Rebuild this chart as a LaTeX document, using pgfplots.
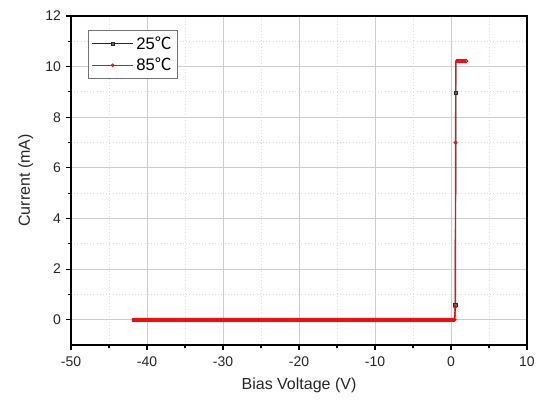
\documentclass[border=0pt]{standalone}
\usepackage{pgfplots}
\pgfplotsset{compat=1.18}
\usepackage{fontspec}
\setmainfont{Liberation Sans}
\newfontfamily\cjk{Noto Sans CJK SC}
\newcommand{\degC}{{\cjk ℃}}
\definecolor{gridmaj}{RGB}{205,205,205}
\definecolor{gridmin}{RGB}{220,220,220}
\definecolor{ser85}{RGB}{250,10,10}
\definecolor{ser25}{RGB}{40,40,40}
\begin{document}
\begin{tikzpicture}
\path[use as bounding box] (-53.25pt,-41.25pt) rectangle (351.75pt,258.75pt);
\begin{axis}[
  at={(0pt,0pt)}, anchor=south west,
  scale only axis,
  width=342pt, height=246.75pt,
  xmin=-50, xmax=10, ymin=-1, ymax=12,
  xtick={-50,-40,...,10}, ytick={0,2,...,12},
  minor x tick num=1, minor y tick num=1,
  tick align=outside, tick pos=left,
  major tick length=4pt, minor tick length=2.5pt,
  grid=both,
  major grid style={gridmaj, line width=0.6pt},
  minor grid style={gridmin, dotted, line width=0.7pt},
  axis line style={line width=0.9pt},
  every tick/.style={black, line width=0.8pt},
  /pgf/number format/assume math mode=true,
  ticklabel style={font=\fontsize{10.5}{12}\selectfont, text=black!85},
  xticklabel style={yshift=-1pt},
  label style={font=\fontsize{12}{14}\selectfont, text=black!85},
  xlabel={Bias Voltage (V)},
  ylabel={Current (mA)},
  xlabel style={at={(axis description cs:0.5,0)}, anchor=center, yshift=-30pt},
  ylabel style={at={(axis description cs:0,0.5)}, anchor=center, yshift=34pt},
  legend style={at={(0.037,0.957)}, anchor=north west, draw=black!55,
    font=\fontsize{12.5}{14}\selectfont, inner sep=2.5pt, row sep=1pt,
    line width=0.6pt},
  legend cell align=left,
  legend image code/.code={
    \draw[mark repeat=2, mark phase=2, #1]
      plot coordinates {(0cm,0cm) (0.54cm,0cm) (1.08cm,0cm)};
  },
]
\addlegendimage{ser25, line width=0.8pt, mark=square*, mark size=1.1pt,
  mark options={solid, fill=ser25!70, line width=0.5pt}}
\addlegendentry{25\degC}
\addlegendimage{ser85, line width=0.8pt, mark=o, mark size=1.1pt,
  mark options={solid, fill=white, line width=0.6pt}}
\addlegendentry{85\degC}
\addplot[ser25, line width=0.9pt, mark=square*, mark size=1.2pt,
  mark options={solid, fill=ser25!70, line width=0.5pt},
  mark indices={3,7}, forget plot] coordinates {
(-42,0)(0.5,0)(0.58,0.6)(0.6,2.2)(0.61,4.6)(0.62,6.1)(0.63,8.95)(0.64,10.2)(2.0,10.22)
};
\addplot[ser85, line width=0.9pt, mark=o, mark size=1.2pt,
  mark options={solid, fill=white, line width=0.6pt},
  mark indices={2,3,6,9}, forget plot] coordinates {
(-42,0)(0.45,0)(0.55,0.5)(0.57,2.5)(0.58,4.8)(0.6,7.0)(0.61,9.0)(0.62,10.22)(2.0,10.22)
};
% dense sweep points merge into a solid band on the flat parts of the curve
\addplot[ser85, line width=3pt, forget plot] coordinates {(-42,0)(0.45,0)};
\addplot[ser85, line width=2.4pt, forget plot] coordinates {(0.62,10.22)(1.95,10.22)};
\addplot[ser85, only marks, mark=o, mark size=1.2pt,
  mark options={solid, fill=white, line width=0.6pt}, forget plot] coordinates {
(0.45,0)(2.0,10.22)};
\end{axis}
\end{tikzpicture}
\end{document}
